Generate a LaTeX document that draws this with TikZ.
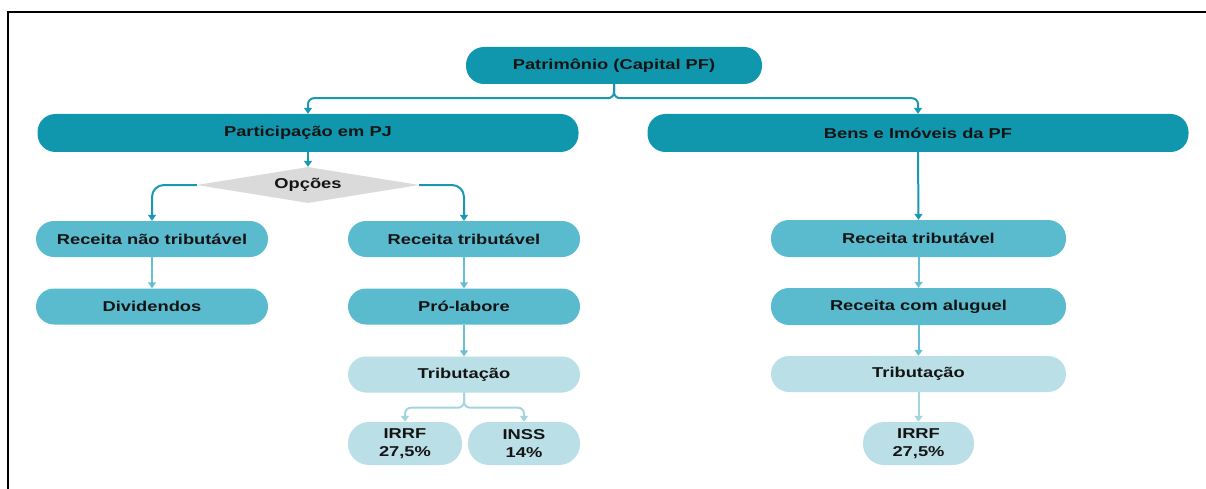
\documentclass[tikz,border=0pt]{standalone}
\usepackage{fontspec}
\setmainfont{Liberation Sans}[FakeStretch=1.28]
\usetikzlibrary{arrows.meta,shapes.geometric}
\definecolor{cdark}{HTML}{1097AE}
\definecolor{cmed}{HTML}{5ABBCF}
\definecolor{clight}{HTML}{BADFE7}
\definecolor{cgray}{HTML}{DADADA}
\definecolor{ldark}{HTML}{1A98B1}
\definecolor{lmed}{HTML}{66C0D3}
\definecolor{llight}{HTML}{A3D5E0}
\definecolor{ctxt}{HTML}{141414}
\begin{document}
\begin{tikzpicture}[x=1pt,y=-1pt,
  box/.style={rectangle, rounded corners=18pt, inner sep=0pt, align=center,
    font=\fontsize{14.3}{18}\selectfont\bfseries, text=ctxt},
  dk/.style={box, fill=cdark},
  md/.style={box, fill=cmed, minimum width=232pt, minimum height=36pt},
  lt/.style={box, fill=clight},
  pill/.style={lt, minimum height=43pt, rounded corners=21pt},
  conn/.style={line width=2pt, -{Triangle[width=8pt,length=6pt]}},
  cdk/.style={conn, draw=ldark},
  cmd/.style={conn, draw=lmed},
  clt/.style={conn, draw=llight}
]
\fill[white] (0,0) rectangle (1206,489);
\useasboundingbox (0,0) rectangle (1206,489);
\draw[line width=2.5pt] (8,489) -- (8,12) -- (1206,12);

\node[dk, minimum width=296pt, minimum height=37pt] (pat) at (614,65.5) {Patrimônio (Capital PF)};
\node[dk, minimum width=541pt, minimum height=38pt] (part) at (308,133) {Participação em PJ};
\node[dk, minimum width=541pt, minimum height=38pt] (bens) at (918,133) {Bens e Imóveis da PF};

\node[diamond, fill=cgray, inner sep=0pt, aspect=6, minimum width=222pt, minimum height=36pt,
  font=\fontsize{14.3}{18}\selectfont\bfseries, text=ctxt] (opc) at (308,185) {Opções};

\node[md] (rnt) at (152,239) {Receita não tributável};
\node[md] (div) at (152,306.5) {Dividendos};
\node[md] (rt1) at (464,239) {Receita tributável};
\node[md] (pro) at (464,306.5) {Pró-labore};
\node[lt, minimum width=232pt, minimum height=36pt] (trib1) at (464,374.5) {Tributação};
\node[pill, minimum width=114pt] (irrf1) at (405,443.5) {IRRF\\27,5\%};
\node[pill, minimum width=112pt] (inss) at (524,443.5) {INSS\\14\%};

\node[md, minimum width=295pt, minimum height=37pt] (rt2) at (918.5,238.5) {Receita tributável};
\node[md, minimum width=295pt, minimum height=37pt] (alu) at (918.5,306.5) {Receita com aluguel};
\node[lt, minimum width=295pt, minimum height=36pt] (trib2) at (918.5,374) {Tributação};
\node[pill, minimum width=111pt] (irrf2) at (918.5,443.5) {IRRF\\27,5\%};

\draw[cdk, rounded corners=6pt] (pat.south) -- ++(0,14) -| (part.north);
\draw[cdk, rounded corners=6pt] (pat.south) -- ++(0,14) -| (bens.north);
\draw[cdk] (part.south) -- (opc.north);
\draw[cdk, rounded corners=12pt] (opc.west) -| (rnt.north);
\draw[cdk, rounded corners=12pt] (opc.east) -| (rt1.north);
\draw[cmd] (rnt.south) -- (div.north);
\draw[cmd] (rt1.south) -- (pro.north);
\draw[cmd] (pro.south) -- (trib1.north);
\draw[clt, rounded corners=6pt] (trib1.south) -- ++(0,15) -| (irrf1.north);
\draw[clt, rounded corners=6pt] (trib1.south) -- ++(0,15) -| (inss.north);

\draw[cdk] (bens.south) -- (rt2.north);
\draw[cmd] (rt2.south) -- (alu.north);
\draw[cmd] (alu.south) -- (trib2.north);
\draw[clt] (trib2.south) -- (irrf2.north);
\end{tikzpicture}
\end{document}
